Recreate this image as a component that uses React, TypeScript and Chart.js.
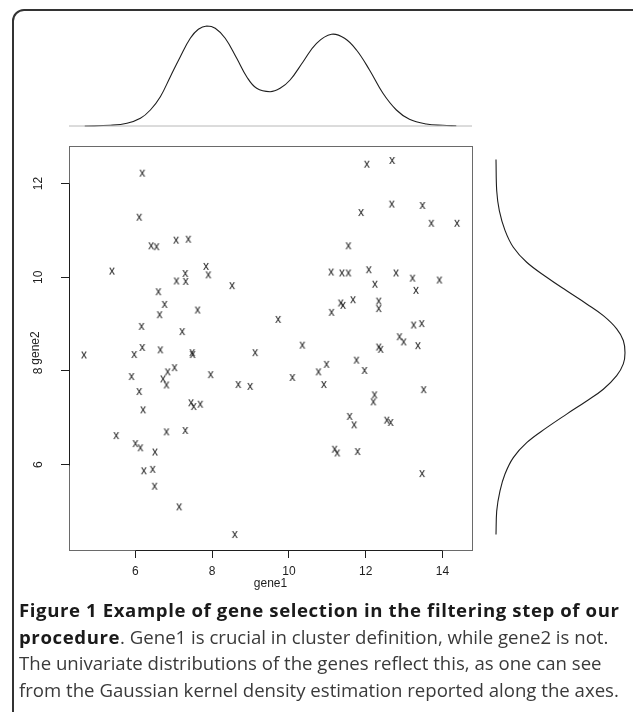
import React, { useEffect, useRef } from "react";
import { Chart, registerables } from "chart.js";
Chart.register(...registerables);

// ---- scatter data (gene1, gene2) ----
const gene1 = [
  6.18, 6.10, 6.41, 6.55, 7.06, 7.38, 5.39, 7.84, 7.90, 7.30, 7.07, 7.31, 8.52, 6.60, 6.76, 6.63, 7.62, 6.16, 7.22, 9.72,
  6.18, 5.97, 6.65, 4.66, 7.48, 7.49, 9.12, 7.02, 6.84, 6.72, 6.81, 5.90, 7.96, 8.68, 8.99, 6.10, 6.20, 7.45, 7.52, 7.69,
  5.50, 6.81, 7.30, 6.00, 6.13, 6.51, 6.22, 6.45, 6.50, 7.14, 8.59,
  12.03, 12.69, 12.68, 13.48, 11.88, 13.71, 14.38, 11.55, 11.10, 11.38, 11.55, 12.08, 12.79, 13.22, 13.92, 12.24, 13.31,
  11.35, 11.41, 11.67, 12.34, 12.34, 11.11, 13.25, 13.46, 10.35, 12.34, 12.39, 12.88, 12.99, 13.36, 10.98, 11.76,
  10.09, 10.77, 11.97, 10.91, 13.51, 12.23, 12.20, 11.58, 11.70, 12.55, 12.65, 11.19, 11.26, 11.79, 13.47,
];
const gene2 = [
  12.21, 11.27, 10.66, 10.64, 10.78, 10.80, 10.12, 10.22, 10.04, 10.07, 9.91, 9.90, 9.81, 9.68, 9.41, 9.19, 9.29, 8.94, 8.83, 9.09,
  8.49, 8.34, 8.44, 8.33, 8.38, 8.34, 8.38, 8.06, 7.97, 7.82, 7.69, 7.87, 7.91, 7.70, 7.66, 7.55, 7.16, 7.31, 7.23, 7.28,
  6.61, 6.69, 6.72, 6.44, 6.35, 6.26, 5.86, 5.89, 5.53, 5.09, 4.50,
  12.40, 12.48, 11.55, 11.52, 11.37, 11.14, 11.14, 10.66, 10.10, 10.08, 10.08, 10.15, 10.08, 9.97, 9.93, 9.84, 9.71,
  9.44, 9.39, 9.51, 9.48, 9.32, 9.24, 8.97, 9.00, 8.54, 8.50, 8.45, 8.72, 8.61, 8.53, 8.13, 8.22,
  7.85, 7.97, 8.00, 7.70, 7.59, 7.48, 7.33, 7.02, 6.84, 6.94, 6.89, 6.32, 6.24, 6.27, 5.80,
];

const xTicks = [6, 8, 10, 12, 14];
const yTicks = [6, 8, 10, 12];
const xRange = [4.27, 14.77];
const yRange = [4.18, 12.8];

// ---- density of gene1 (top) ----
const topDensX = [4.68, 5.35, 5.78, 6.13, 6.39, 6.65, 6.91, 7.17, 7.43, 7.64, 7.86, 8.08, 8.34, 8.64, 8.9, 9.16, 9.51, 9.77,
  10.03, 10.37, 10.72, 11.11, 11.45, 11.76, 12.1, 12.45, 12.8, 13.14, 13.58, 14.01, 14.36];
const topDensY = [0, 0.0014, 0.0054, 0.0154, 0.032, 0.0586, 0.0986, 0.1386, 0.1754, 0.1934, 0.2, 0.1954, 0.1754, 0.1354,
  0.0986, 0.0754, 0.0686, 0.0754, 0.092, 0.1286, 0.1654, 0.1834, 0.1754, 0.152, 0.112, 0.0654, 0.032, 0.0134, 0.004, 0.0014, 0.0006];
const topDensMax = 0.2;

// ---- density of gene2 (right) ----
const rightDensG = [12.51, 11.85, 11.42, 11.0, 10.64, 10.32, 10.0, 9.71, 9.43, 9.18, 8.9, 8.65, 8.39, 8.15, 7.9, 7.61, 7.36,
  7.08, 6.79, 6.47, 6.15, 5.8, 5.44, 5.01, 4.51];
const rightDensD = [0, 0.0011, 0.0053, 0.0144, 0.0277, 0.0491, 0.0811, 0.1131, 0.1451, 0.1717, 0.1931, 0.2037, 0.2064,
  0.2037, 0.1931, 0.1717, 0.1451, 0.1131, 0.0811, 0.0491, 0.0277, 0.0144, 0.0064, 0.0011, 0];
const rightDensMax = 0.2064;

const AXFONT = '"Liberation Sans", Arial, Helvetica, sans-serif';
const INK = "#1e1e1e";

function makeXGlyph() {
  const c = document.createElement("canvas");
  c.width = 10;
  c.height = 10;
  const g = c.getContext("2d")!;
  g.fillStyle = "#1a1a1a";
  g.font = `12px ${AXFONT}`;
  g.textAlign = "center";
  g.textBaseline = "alphabetic";
  g.fillText("x", 5, 5 + 3.1);
  return c;
}

const rBoxPlugin = {
  id: "rbox",
  afterDraw(chart: any) {
    const { ctx, chartArea: a, scales } = chart;
    ctx.save();
    ctx.lineWidth = 1;
    ctx.strokeStyle = "#6a6a6a";
    ctx.strokeRect(Math.round(a.left) + 0.5, Math.round(a.top) + 0.5, Math.round(a.right - a.left), Math.round(a.bottom - a.top));
    ctx.strokeStyle = INK;
    ctx.beginPath();
    const by = Math.round(a.bottom) + 0.5;
    ctx.moveTo(Math.round(scales.x.getPixelForValue(xTicks[0])) + 0.5, by);
    ctx.lineTo(Math.round(scales.x.getPixelForValue(xTicks[xTicks.length - 1])) + 0.5, by);
    const lx = Math.round(a.left) + 0.5;
    ctx.moveTo(lx, Math.round(scales.y.getPixelForValue(yTicks[0])) + 0.5);
    ctx.lineTo(lx, Math.round(scales.y.getPixelForValue(yTicks[yTicks.length - 1])) + 0.5);
    ctx.stroke();
    ctx.restore();
  },
};

export default function App() {
  const mainRef = useRef<HTMLCanvasElement>(null);
  const topRef = useRef<HTMLCanvasElement>(null);
  const rightRef = useRef<HTMLCanvasElement>(null);

  useEffect(() => {
    const glyph = makeXGlyph();
    const main = new Chart(mainRef.current!, {
      type: "scatter",
      data: {
        datasets: [
          {
            data: gene1.map((g, i) => ({ x: g, y: gene2[i] })),
            pointStyle: glyph as any,
            pointRadius: 5,
            pointHoverRadius: 5,
          },
        ],
      },
      options: {
        animation: false,
        responsive: false,
        events: [],
        layout: { padding: { left: 0, top: 146, right: 161, bottom: 0 } },
        plugins: { legend: { display: false }, tooltip: { enabled: false } },
        scales: {
          x: {
            type: "linear",
            min: xRange[0],
            max: xRange[1],
            afterBuildTicks: (s: any) => {
              s.ticks = xTicks.map((v) => ({ value: v }));
            },
            afterFit: (s: any) => {
              s.height = 50;
            },
            grid: { drawOnChartArea: false, drawTicks: true, tickLength: 8, color: INK, lineWidth: 1 },
            border: { display: false },
            ticks: { font: { family: AXFONT, size: 12 }, color: INK, padding: 6, maxRotation: 0, autoSkip: false },
            title: { display: true, text: "gene1", font: { family: AXFONT, size: 12 }, color: INK, padding: { top: 0, bottom: 9 } },
          },
          y: {
            type: "linear",
            min: yRange[0],
            max: yRange[1],
            afterBuildTicks: (s: any) => {
              s.ticks = yTicks.map((v) => ({ value: v }));
            },
            afterFit: (s: any) => {
              s.width = 69;
            },
            grid: { drawOnChartArea: false, drawTicks: true, tickLength: 8, color: INK, lineWidth: 1 },
            border: { display: false },
            ticks: {
              font: { family: AXFONT, size: 12 },
              color: INK,
              padding: 16,
              minRotation: 90,
              maxRotation: 90,
              crossAlign: "center",
              autoSkip: false,
            },
            title: { display: true, text: "gene2", font: { family: AXFONT, size: 12 }, color: INK, padding: { top: 28, bottom: 0 } },
          },
        },
      },
      plugins: [rBoxPlugin],
    } as any);

    const top = new Chart(topRef.current!, {
      type: "scatter",
      data: {
        datasets: [
          {
            data: [
              { x: xRange[0], y: 0 },
              { x: xRange[1], y: 0 },
            ],
            showLine: true,
            borderColor: "#b8b8b8",
            borderWidth: 1,
            pointRadius: 0,
            clip: false,
          },
          {
            data: topDensX.map((x, i) => ({ x, y: topDensY[i] })),
            showLine: true,
            borderColor: INK,
            borderWidth: 1.1,
            pointRadius: 0,
            tension: 0.4,
            clip: false,
          },
        ],
      },
      options: {
        animation: false,
        responsive: false,
        events: [],
        layout: { padding: { left: 69, top: 26, right: 161, bottom: 14 } },
        plugins: { legend: { display: false }, tooltip: { enabled: false } },
        scales: {
          x: { type: "linear", min: xRange[0], max: xRange[1], display: false },
          y: { type: "linear", min: 0, max: topDensMax, display: false },
        },
      },
    } as any);

    const right = new Chart(rightRef.current!, {
      type: "scatter",
      data: {
        datasets: [
          {
            data: rightDensG.map((g, i) => ({ x: rightDensD[i], y: g })),
            showLine: true,
            borderColor: INK,
            borderWidth: 1.1,
            pointRadius: 0,
            tension: 0.4,
            clip: false,
          },
        ],
      },
      options: {
        animation: false,
        responsive: false,
        events: [],
        layout: { padding: { left: 16, top: 6, right: 8, bottom: 10 } },
        plugins: { legend: { display: false }, tooltip: { enabled: false } },
        scales: {
          x: { type: "linear", min: 0, max: rightDensMax, display: false },
          y: { type: "linear", min: yRange[0], max: yRange[1], display: false },
        },
      },
    } as any);

    return () => {
      main.destroy();
      top.destroy();
      right.destroy();
    };
  }, []);

  const capFont = '"Open Sans", "Noto Sans", sans-serif';
  const lineStyle: React.CSSProperties = { height: 26.5, lineHeight: "26.5px", whiteSpace: "nowrap" };
  const boldStyle: React.CSSProperties = { fontWeight: 700, color: "#1a1a1a", letterSpacing: "0.6px" };

  return (
    <div style={{ position: "absolute", left: 0, top: 0, width: 633, height: 712, background: "#fff", overflow: "hidden" }}>
      <div
        style={{
          position: "absolute",
          left: 12,
          top: 9,
          width: 640,
          height: 740,
          border: "2px solid #333",
          borderRadius: 12,
          boxSizing: "border-box",
        }}
      />
      <canvas ref={topRef} width={633} height={140} style={{ position: "absolute", left: 0, top: 0, width: 633, height: 140 }} />
      <canvas ref={mainRef} width={633} height={600} style={{ position: "absolute", left: 0, top: 0, width: 633, height: 600 }} />
      <canvas ref={rightRef} width={153} height={420} style={{ position: "absolute", left: 480, top: 140, width: 153, height: 420 }} />
      <div style={{ position: "absolute", left: 19, top: 597, fontFamily: capFont, fontSize: 18.6, color: "#3a3a3a" }}>
        <div style={{ ...lineStyle, ...boldStyle }}>Figure 1 Example of gene selection in the filtering step of our</div>
        <div style={lineStyle}>
          <span style={boldStyle}>procedure</span>. Gene1 is crucial in cluster definition, while gene2 is not.
        </div>
        <div style={lineStyle}>The univariate distributions of the genes reflect this, as one can see</div>
        <div style={lineStyle}>from the Gaussian kernel density estimation reported along the axes.</div>
      </div>
    </div>
  );
}
